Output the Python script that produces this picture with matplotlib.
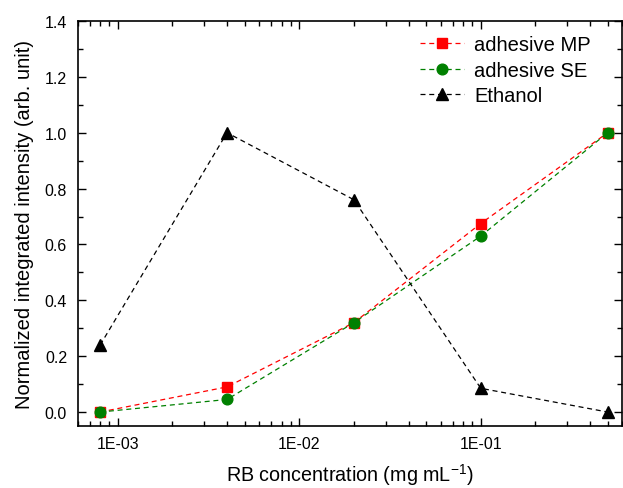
import matplotlib
matplotlib.use("Agg")
import matplotlib.pyplot as plt
from matplotlib.ticker import LogLocator, FixedLocator, MultipleLocator, FuncFormatter

plt.rcParams['font.family'] = ['Liberation Sans', 'DejaVu Sans']
plt.rcParams['mathtext.fontset'] = 'custom'
plt.rcParams['mathtext.rm'] = 'Liberation Sans'
plt.rcParams['mathtext.it'] = 'Liberation Sans:italic'
plt.rcParams['mathtext.bf'] = 'Liberation Sans:bold'

conc = [0.0008, 0.004, 0.02, 0.1, 0.5]
mp = [0.0, 0.09, 0.32, 0.675, 1.0]
se = [0.0, 0.045, 0.32, 0.63, 1.0]
ethanol = [0.24, 1.0, 0.76, 0.085, 0.0]
xtick_vals = [1e-3, 1e-2, 1e-1]
xtick_labels = ["1E-03", "1E-02", "1E-01"]

fig = plt.figure(figsize=(6.23, 4.89), dpi=100)
ax = fig.add_axes([77.5/623, 62/489, (622-77.5)/623, (427-22)/489])

dash = (0, (4, 3))
ax.plot(conc, mp, ls=dash, color='red', lw=0.9, marker='s', ms=6.5, label='adhesive MP')
ax.plot(conc, se, ls=dash, color='green', lw=0.9, marker='o', ms=7.7, label='adhesive SE')
ax.plot(conc, ethanol, ls=dash, color='black', lw=0.9, marker='^', ms=8.6, label='Ethanol')

ax.set_xscale('log')
ax.set_xlim(6e-4, 0.6)
ax.set_ylim(-0.05, 1.4)
ax.xaxis.set_major_locator(FixedLocator(xtick_vals))
ax.set_xticklabels(xtick_labels)
ax.xaxis.set_minor_locator(LogLocator(base=10, subs=range(2, 10)))
ax.xaxis.set_minor_formatter(plt.NullFormatter())
ax.yaxis.set_major_locator(MultipleLocator(0.2))
ax.yaxis.set_minor_locator(MultipleLocator(0.1))
ax.yaxis.set_major_formatter(FuncFormatter(lambda v, p: f"{v:.1f}"))

ax.tick_params(which='both', direction='in', top=True, right=True, labelsize=11.5, width=1)
ax.tick_params(which='major', length=6, pad=7.5)
ax.tick_params(which='minor', length=3.5)
for s in ax.spines.values():
    s.set_linewidth(1.2)

ax.set_xlabel('RB concentration (mg mL$^{-1}$)', fontsize=14.2)
ax.xaxis.set_label_coords(0.5, -0.087)
ax.set_ylabel('Normalized integrated intensity (arb. unit)', fontsize=14.5, labelpad=8)

ax.legend(loc='upper right', bbox_to_anchor=(0.958, 0.985), borderaxespad=0,
          frameon=False, fontsize=14.5, handlelength=2.2, handletextpad=0.5,
          labelspacing=0.33)

fig.savefig('out.png', dpi=100)
